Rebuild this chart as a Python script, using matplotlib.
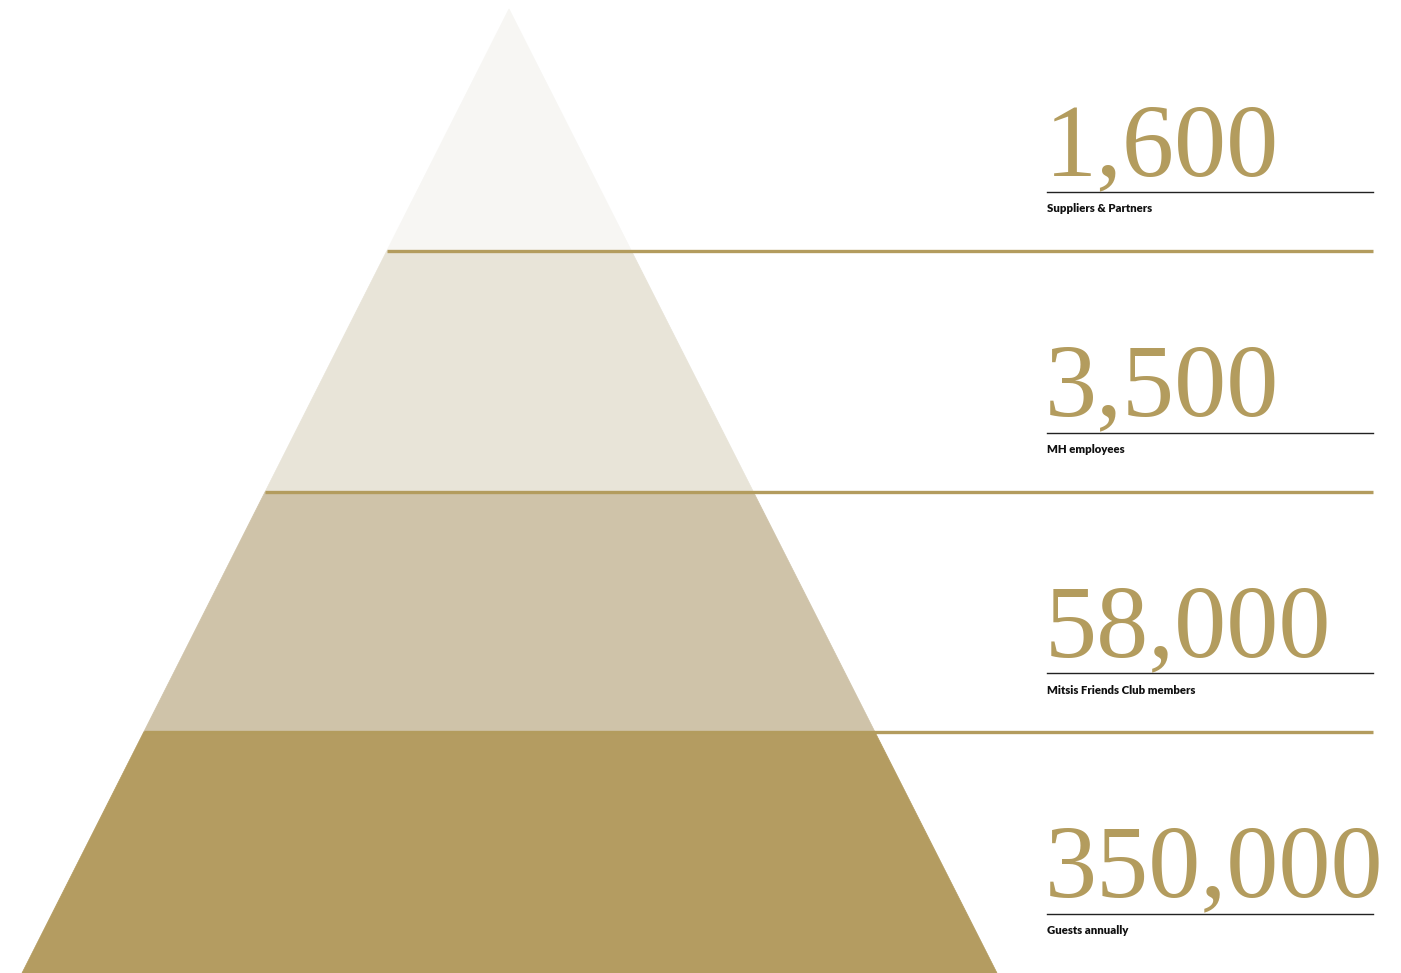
import matplotlib
matplotlib.use("Agg")
import matplotlib.pyplot as plt
from matplotlib.patches import Polygon

# ---- data ----
values = ["1,600", "3,500", "58,000", "350,000"]
labels = ["Suppliers & Partners", "MH employees", "Mitsis Friends Club members", "Guests annually"]
tier_colors = ["#F7F6F3", "#E8E4D8", "#CFC3A9", "#B49C61"]

GOLD = "#B39C5E"
W, H = 1401, 973

fig = plt.figure(figsize=(W / 100, H / 100), dpi=100)
ax = fig.add_axes([0, 0, 1, 1])
ax.set_xlim(0, W)
ax.set_ylim(H, 0)
ax.axis("off")

apex_x, apex_y = 509, 9
base_y, base_l, base_r = 973, 22, 997
bounds = [apex_y, 251, 492, 732, base_y]


def xl(y):
    return apex_x - (y - apex_y) * (apex_x - base_l) / (base_y - apex_y)


def xr(y):
    return apex_x + (y - apex_y) * (base_r - apex_x) / (base_y - apex_y)


for i, c in enumerate(tier_colors):
    y0, y1 = bounds[i], bounds[i + 1]
    poly = [(xl(y0), y0), (xr(y0), y0), (xr(y1), y1), (xl(y1), y1)]
    ax.add_patch(Polygon(poly, closed=True, facecolor=c, edgecolor=c, lw=0.5, zorder=1))

# gold separator lines
for y in bounds[1:4]:
    ax.plot([xl(y), 1373], [y, y], color=GOLD, lw=2.4, solid_capstyle="butt", zorder=3)

# numbers, rules and labels
for i, (v, lab) in enumerate(zip(values, labels)):
    base = 178 + i * 240.5
    ax.text(1045, base - 3, v, fontsize=75, family="Liberation Serif", color=GOLD,
            ha="left", va="baseline", zorder=4)
    ax.plot([1047, 1373], [base + 14, base + 14], color="#222222", lw=1.0, zorder=3)
    ax.text(1047, base + 31, lab, fontsize=8.2, family="Lato", fontweight="heavy",
            color="#111111", ha="left", va="center", zorder=4)

fig.savefig("out.png", dpi=100)
